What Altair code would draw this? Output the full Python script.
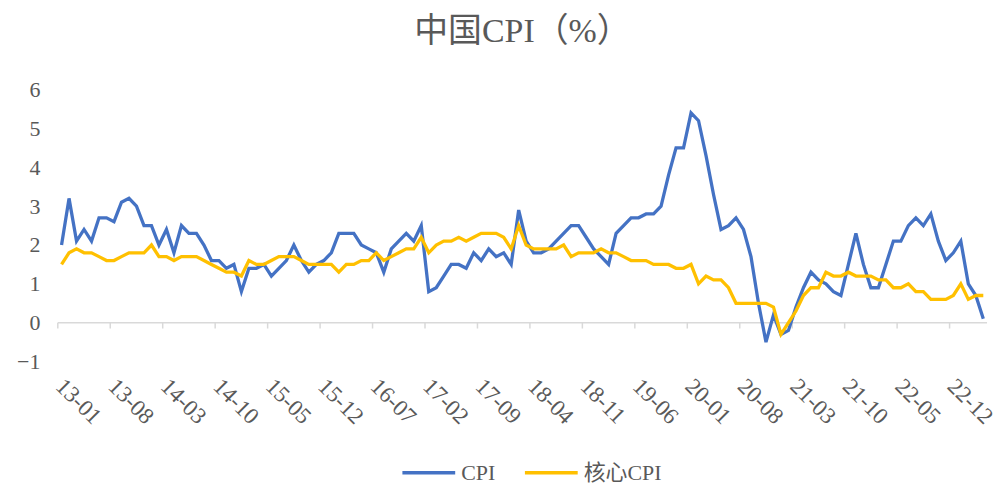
import altair as alt
import pandas as pd

# ---- data ----
months = [f"{y % 100:02d}-{m:02d}" for y in range(2013, 2024) for m in range(1, 13)][:124]

cpi = [
    2.0, 3.2, 2.1, 2.4, 2.1, 2.7, 2.7, 2.6, 3.1, 3.2, 3.0, 2.5,   # 2013
    2.5, 2.0, 2.4, 1.8, 2.5, 2.3, 2.3, 2.0, 1.6, 1.6, 1.4, 1.5,   # 2014
    0.8, 1.4, 1.4, 1.5, 1.2, 1.4, 1.6, 2.0, 1.6, 1.3, 1.5, 1.6,   # 2015
    1.8, 2.3, 2.3, 2.3, 2.0, 1.9, 1.8, 1.3, 1.9, 2.1, 2.3, 2.1,   # 2016
    2.5, 0.8, 0.9, 1.2, 1.5, 1.5, 1.4, 1.8, 1.6, 1.9, 1.7, 1.8,   # 2017
    1.5, 2.9, 2.1, 1.8, 1.8, 1.9, 2.1, 2.3, 2.5, 2.5, 2.2, 1.9,   # 2018
    1.7, 1.5, 2.3, 2.5, 2.7, 2.7, 2.8, 2.8, 3.0, 3.8, 4.5, 4.5,   # 2019
    5.4, 5.2, 4.3, 3.3, 2.4, 2.5, 2.7, 2.4, 1.7, 0.5, -0.5, 0.2,  # 2020
    -0.3, -0.2, 0.4, 0.9, 1.3, 1.1, 1.0, 0.8, 0.7, 1.5, 2.3, 1.5, # 2021
    0.9, 0.9, 1.5, 2.1, 2.1, 2.5, 2.7, 2.5, 2.8, 2.1, 1.6, 1.8,   # 2022
    2.1, 1.0, 0.7, 0.1,                                           # 2023
]

core_cpi = [
    1.5, 1.8, 1.9, 1.8, 1.8, 1.7, 1.6, 1.6, 1.7, 1.8, 1.8, 1.8,   # 2013
    2.0, 1.7, 1.7, 1.6, 1.7, 1.7, 1.7, 1.6, 1.5, 1.4, 1.3, 1.3,   # 2014
    1.2, 1.6, 1.5, 1.5, 1.6, 1.7, 1.7, 1.7, 1.6, 1.5, 1.5, 1.5,   # 2015
    1.5, 1.3, 1.5, 1.5, 1.6, 1.6, 1.8, 1.6, 1.7, 1.8, 1.9, 1.9,   # 2016
    2.2, 1.8, 2.0, 2.1, 2.1, 2.2, 2.1, 2.2, 2.3, 2.3, 2.3, 2.2,   # 2017
    1.9, 2.5, 2.0, 1.9, 1.9, 1.9, 1.9, 2.0, 1.7, 1.8, 1.8, 1.8,   # 2018
    1.9, 1.8, 1.8, 1.7, 1.6, 1.6, 1.6, 1.5, 1.5, 1.5, 1.4, 1.4,   # 2019
    1.5, 1.0, 1.2, 1.1, 1.1, 0.9, 0.5, 0.5, 0.5, 0.5, 0.5, 0.4,   # 2020
    -0.3, 0.0, 0.3, 0.7, 0.9, 0.9, 1.3, 1.2, 1.2, 1.3, 1.2, 1.2,  # 2021
    1.2, 1.1, 1.1, 0.9, 0.9, 1.0, 0.8, 0.8, 0.6, 0.6, 0.6, 0.7,   # 2022
    1.0, 0.6, 0.7, 0.7,                                           # 2023
]

tick_labels = ["13-01", "13-08", "14-03", "14-10", "15-05", "15-12", "16-07",
               "17-02", "17-09", "18-04", "18-11", "19-06", "20-01", "20-08",
               "21-03", "21-10", "22-05", "22-12"]
y_ticks = [-1, 0, 1, 2, 3, 4, 5, 6]
series_names = ["CPI", "核心CPI"]
series_colors = ["#4472C4", "#FFC000"]

# ---- tables ----
rows = []
for name, vals in zip(series_names, [cpi, core_cpi]):
    for i, v in enumerate(vals):
        rows.append({"idx": i, "month": months[i], "series": name, "value": v})
df = pd.DataFrame(rows)

tick_idx = [months.index(t) for t in tick_labels]
TICK_LEN = 0.15  # tick length in y units (style)
ticks_df = pd.DataFrame({"pos": [i - 0.5 for i in tick_idx]})
ticks_df["y0"] = 0.0
ticks_df["y1"] = -TICK_LEN
zero_df = pd.DataFrame({"v": [0.0]})

FONT = "Liberation Serif, Noto Sans CJK SC"
GRAY = "#595959"
n = len(months)

label_expr = "[" + ",".join(f"'{t}'" for t in tick_labels) + "][round((datum.value + 0.5) / 7)]"

x_scale = alt.Scale(domain=[-0.5, n - 0.5], nice=False, zero=False)
y_scale = alt.Scale(domain=[-1, 6], nice=False)

x_axis = alt.Axis(values=[i - 0.5 for i in tick_idx], labelExpr=label_expr,
                  labelAngle=45, labelAlign="left", labelBaseline="top",
                  labelPadding=13, labelOffset=9, labelFontSize=23,
                  labelColor=GRAY, labelFont=FONT, labelOverlap=False,
                  labelBound=False, labelFlush=False,
                  domain=False, ticks=False, grid=False, title=None)
y_axis = alt.Axis(values=y_ticks, labelFontSize=22, labelColor=GRAY,
                  labelFont=FONT, labelPadding=18, labelOverlap=False,
                  domain=False, ticks=False, grid=False, title=None)

lines = alt.Chart(df).mark_line(strokeWidth=3.3).encode(
    x=alt.X("idx:Q", scale=x_scale, axis=x_axis),
    y=alt.Y("value:Q", scale=y_scale, axis=y_axis),
    color=alt.Color("series:N",
                    scale=alt.Scale(domain=series_names, range=series_colors),
                    legend=alt.Legend(title=None, orient="none", direction="horizontal",
                                      legendX=344, legendY=356,
                                      symbolType="stroke", symbolSize=2809,
                                      symbolStrokeWidth=3.5, labelFontSize=22,
                                      labelColor=GRAY, labelFont=FONT,
                                      labelOffset=4, columnPadding=22)),
    order="idx:Q",
)

zero_line = alt.Chart(zero_df).mark_rule(color="#D9D9D9", strokeWidth=1.5).encode(
    y=alt.Y("v:Q", scale=y_scale, axis=y_axis)
)

tick_marks = alt.Chart(ticks_df).mark_rule(color="#D9D9D9", strokeWidth=1.5).encode(
    x=alt.X("pos:Q", scale=x_scale, axis=x_axis),
    y=alt.Y("y0:Q", scale=y_scale, axis=y_axis),
    y2="y1:Q",
)

chart = alt.layer(zero_line, tick_marks, lines).properties(
    width=933,
    height=273,
    background="white",
    title=alt.TitleParams("中国CPI（%）", fontSize=34, color=GRAY, font=FONT,
                          fontWeight="normal", anchor="middle", frame="group",
                          offset=30),
    autosize=alt.AutoSizeParams(type="none"),
    padding={"left": 50, "top": 81, "right": 12, "bottom": 123},
).configure_view(stroke=None)

chart.save("out.html", embed_options={"renderer": "svg", "actions": False})
